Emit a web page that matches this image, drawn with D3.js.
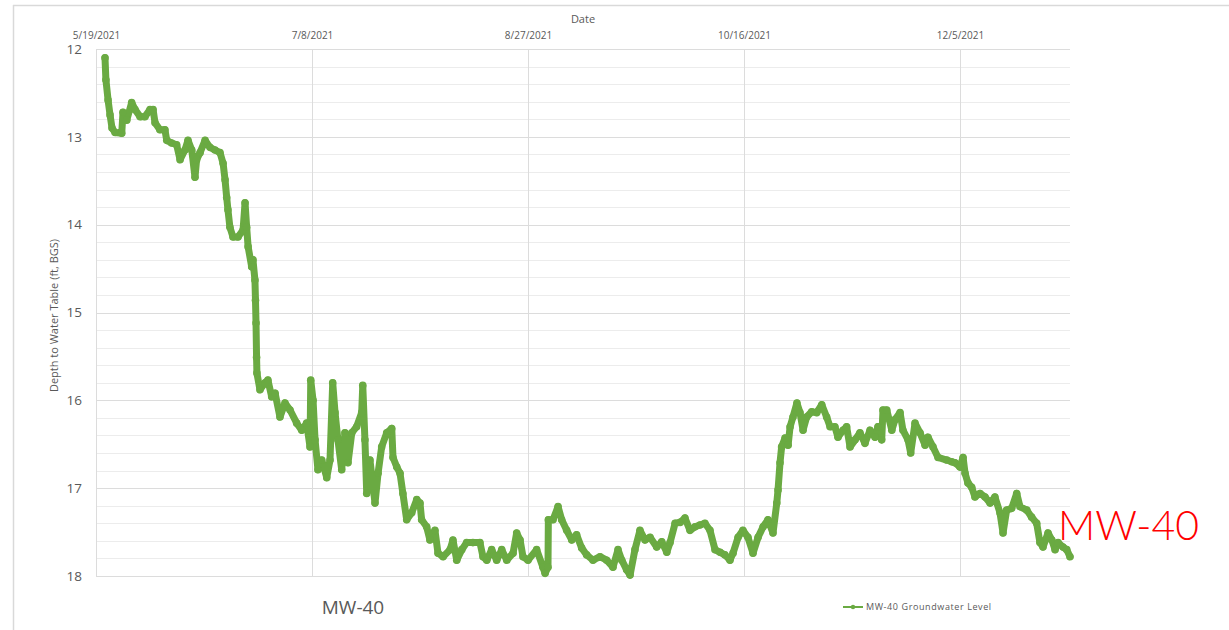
<!DOCTYPE html>
<html><head><meta charset="utf-8">
<script src="https://cdn.jsdelivr.net/npm/d3@7"></script>
<style>html,body{margin:0;padding:0;background:#fff;}svg{display:block;}</style>
</head><body>
<script>
const dates = ["5/21/2021 02:00","5/21/2021 07:00","5/21/2021 19:00","5/22/2021 06:00","5/22/2021 17:00","5/23/2021 10:00","5/24/2021 23:00","5/25/2021 06:00","5/26/2021 03:00","5/27/2021 06:00",
"5/28/2021 01:00","5/29/2021 05:00","5/30/2021 08:00","5/31/2021 12:00","6/1/2021 05:00","6/1/2021 16:00","6/2/2021 19:00","6/3/2021 23:00","6/4/2021 09:00","6/5/2021 12:00",
"6/6/2021 16:00","6/7/2021 11:00","6/8/2021 14:00","6/9/2021 07:00","6/10/2021 04:00","6/10/2021 22:00","6/11/2021 07:00","6/12/2021 02:00","6/13/2021 06:00","6/14/2021 09:00",
"6/15/2021 13:00","6/16/2021 17:00","6/17/2021 10:00","6/17/2021 21:00","6/18/2021 06:00","6/18/2021 13:00","6/19/2021 00:00","6/19/2021 17:00","6/20/2021 21:00","6/22/2021 01:00",
"6/22/2021 12:00","6/22/2021 21:00","6/23/2021 05:00","6/24/2021 01:00","6/24/2021 08:00","6/24/2021 19:00","6/24/2021 22:00","6/25/2021 01:00","6/25/2021 04:00","6/25/2021 06:00",
"6/25/2021 23:00","6/27/2021 03:00","6/27/2021 19:00","6/28/2021 16:00","6/29/2021 11:00","6/30/2021 14:00","7/1/2021 18:00","7/2/2021 22:00","7/4/2021 11:00","7/5/2021 15:00",
"7/6/2021 18:00","7/7/2021 13:00","7/7/2021 17:00","7/8/2021 06:00","7/8/2021 17:00","7/9/2021 09:00","7/10/2021 06:00","7/11/2021 10:00","7/12/2021 04:00","7/12/2021 19:00",
"7/13/2021 08:00","7/14/2021 00:00","7/14/2021 21:00","7/15/2021 15:00","7/16/2021 08:00","7/17/2021 05:00","7/18/2021 08:00","7/19/2021 12:00","7/19/2021 18:00","7/20/2021 06:00",
"7/20/2021 16:00","7/21/2021 10:00","7/22/2021 14:00","7/23/2021 07:00","7/24/2021 03:00","7/25/2021 07:00","7/26/2021 11:00","7/26/2021 18:00","7/27/2021 15:00","7/28/2021 09:00",
"7/29/2021 01:00","7/29/2021 22:00","7/31/2021 02:00","8/1/2021 06:00","8/2/2021 00:00","8/2/2021 09:00","8/3/2021 13:00","8/4/2021 07:00","8/5/2021 11:00","8/6/2021 04:00",
"8/7/2021 08:00","8/8/2021 23:00","8/9/2021 15:00","8/10/2021 12:00","8/11/2021 16:00","8/12/2021 19:00","8/14/2021 06:00","8/15/2021 21:00","8/16/2021 14:00","8/17/2021 11:00",
"8/18/2021 14:00","8/19/2021 18:00","8/20/2021 22:00","8/22/2021 02:00","8/23/2021 13:00","8/24/2021 09:00","8/25/2021 04:00","8/25/2021 20:00","8/27/2021 00:00","8/29/2021 00:00",
"8/30/2021 11:00","8/30/2021 23:00","8/31/2021 15:00","8/31/2021 17:00","9/1/2021 19:00","9/2/2021 23:00","9/3/2021 19:00","9/4/2021 23:00","9/6/2021 03:00","9/7/2021 06:00",
"9/8/2021 10:00","9/9/2021 14:00","9/11/2021 01:00","9/12/2021 16:00","9/14/2021 05:00","9/15/2021 16:00","9/16/2021 20:00","9/17/2021 17:00","9/18/2021 20:00","9/19/2021 15:00",
"9/20/2021 18:00","9/21/2021 22:00","9/23/2021 02:00","9/24/2021 06:00","9/25/2021 19:00","9/26/2021 23:00","9/28/2021 03:00","9/28/2021 21:00","9/30/2021 01:00","10/1/2021 05:00",
"10/2/2021 08:00","10/3/2021 12:00","10/4/2021 16:00","10/5/2021 19:00","10/6/2021 23:00","10/8/2021 03:00","10/9/2021 07:00","10/10/2021 11:00","10/11/2021 14:00","10/12/2021 18:00",
"10/13/2021 11:00","10/14/2021 15:00","10/15/2021 18:00","10/16/2021 22:00","10/18/2021 02:00","10/19/2021 06:00","10/20/2021 10:00","10/21/2021 13:00","10/22/2021 17:00","10/23/2021 14:00",
"10/23/2021 21:00","10/24/2021 08:00","10/24/2021 17:00","10/25/2021 12:00","10/26/2021 05:00","10/26/2021 16:00","10/27/2021 08:00","10/28/2021 06:00","10/28/2021 23:00","10/29/2021 16:00",
"10/30/2021 12:00","10/31/2021 16:00","11/1/2021 20:00","11/3/2021 00:00","11/4/2021 03:00","11/4/2021 22:00","11/6/2021 01:00","11/6/2021 18:00","11/7/2021 22:00","11/8/2021 18:00",
"11/9/2021 13:00","11/10/2021 17:00","11/11/2021 20:00","11/13/2021 00:00","11/14/2021 04:00","11/15/2021 08:00","11/16/2021 00:00","11/16/2021 21:00","11/17/2021 04:00","11/18/2021 01:00",
"11/19/2021 05:00","11/19/2021 23:00","11/21/2021 03:00","11/21/2021 19:00","11/22/2021 23:00","11/23/2021 14:00","11/24/2021 14:00","11/25/2021 18:00","11/26/2021 22:00","11/27/2021 14:00",
"11/28/2021 18:00","11/29/2021 22:00","12/1/2021 22:00","12/3/2021 02:00","12/3/2021 20:00","12/5/2021 00:00","12/5/2021 17:00","12/6/2021 04:00","12/6/2021 20:00","12/7/2021 17:00",
"12/8/2021 11:00","12/9/2021 15:00","12/10/2021 19:00","12/11/2021 23:00","12/13/2021 02:00","12/14/2021 06:00","12/14/2021 23:00","12/15/2021 19:00","12/16/2021 23:00","12/18/2021 03:00",
"12/18/2021 21:00","12/20/2021 11:00","12/21/2021 14:00","12/22/2021 18:00","12/23/2021 12:00","12/24/2021 05:00","12/25/2021 09:00","12/26/2021 06:00","12/27/2021 00:00","12/27/2021 17:00",
"12/28/2021 20:00","12/29/2021 17:00","12/30/2021 11:00"];
const depths = [12.10,12.35,12.58,12.75,12.90,12.95,12.96,12.72,12.81,12.61,
12.69,12.77,12.77,12.69,12.69,12.84,12.92,12.92,13.04,13.07,
13.09,13.26,13.15,13.04,13.15,13.46,13.26,13.18,13.04,13.12,
13.15,13.18,13.30,13.49,13.69,13.83,14.03,14.14,14.14,14.06,
13.75,14.03,14.25,14.48,14.40,14.63,14.86,15.12,15.51,15.69,
15.88,15.80,15.77,15.96,15.92,16.19,16.03,16.11,16.26,16.34,
16.26,16.53,15.77,16.00,16.45,16.79,16.68,16.88,16.68,15.80,
16.14,16.45,16.79,16.37,16.71,16.37,16.30,16.14,15.83,16.45,
17.06,16.68,17.17,16.83,16.53,16.37,16.32,16.65,16.76,16.83,
17.06,17.36,17.28,17.13,17.17,17.36,17.44,17.59,17.48,17.74,
17.78,17.70,17.59,17.82,17.70,17.62,17.62,17.62,17.78,17.82,
17.70,17.82,17.70,17.82,17.74,17.51,17.59,17.78,17.82,17.70,
17.90,17.97,17.90,17.36,17.36,17.21,17.36,17.48,17.59,17.53,
17.68,17.76,17.82,17.78,17.82,17.90,17.70,17.82,17.93,17.99,
17.70,17.48,17.59,17.56,17.67,17.61,17.73,17.62,17.40,17.39,
17.34,17.48,17.44,17.42,17.40,17.48,17.70,17.73,17.76,17.82,
17.74,17.56,17.48,17.56,17.74,17.56,17.44,17.36,17.51,17.17,
17.02,16.71,16.53,16.43,16.51,16.30,16.19,16.03,16.14,16.34,
16.19,16.13,16.14,16.05,16.19,16.30,16.30,16.42,16.34,16.30,
16.53,16.45,16.37,16.49,16.34,16.42,16.30,16.45,16.11,16.11,
16.34,16.22,16.14,16.34,16.45,16.60,16.26,16.37,16.51,16.42,
16.53,16.65,16.68,16.70,16.71,16.76,16.65,16.83,16.94,16.99,
17.10,17.06,17.10,17.17,17.10,17.28,17.51,17.25,17.23,17.06,
17.21,17.25,17.33,17.40,17.62,17.67,17.51,17.59,17.70,17.62,
17.67,17.70,17.78];
const xTickLabels = ["5/19/2021","7/8/2021","8/27/2021","10/16/2021","12/5/2021"];
const xDomain = ["5/19/2021","12/30/2021 11:00"];
const yTicks = [12,13,14,15,16,17,18];
const seriesName = "MW-40 Groundwater Level";
const wellName = "MW-40";

const W = 1229, H = 630;
const m = {left:96, top:49, right:1070, bottom:576};
const parseT = d3.timeParse("%m/%d/%Y %H:%M");
const parseD = d3.timeParse("%m/%d/%Y");
const pd = s => parseT(s) || parseD(s);
const data = dates.map((d,i)=>({t:pd(d), v:depths[i]}));

const svg = d3.select("body").append("svg").attr("width",W).attr("height",H);
svg.append("rect").attr("width",W).attr("height",H).attr("fill","#fff");
// outer frame
svg.append("line").attr("x1",13).attr("x2",W).attr("y1",5.5).attr("y2",5.5).attr("stroke","#d9d9d9").attr("stroke-width",1.5);
svg.append("line").attr("x1",13.5).attr("x2",13.5).attr("y1",5).attr("y2",H).attr("stroke","#d9d9d9").attr("stroke-width",1.5);

const x = d3.scaleTime().domain(xDomain.map(pd)).range([m.left, m.right]);
const y = d3.scaleLinear().domain([12,18]).range([m.top, m.bottom]);

// horizontal gridlines (minor every 0.2)
const minor = d3.range(0,31).map(i=>12+i*0.2);
svg.append("g").selectAll("line").data(minor).join("line")
  .attr("x1",m.left).attr("x2",m.right)
  .attr("y1",d=>Math.round(y(d))+0.5).attr("y2",d=>Math.round(y(d))+0.5)
  .attr("stroke",(d,i)=> i%5===0 ? "#dcdcdc" : "#ececec").attr("stroke-width",1);

// vertical gridlines at date ticks
const xt = xTickLabels.map(pd);
svg.append("g").selectAll("line").data(xt).join("line")
  .attr("x1",d=>Math.round(x(d))+0.5).attr("x2",d=>Math.round(x(d))+0.5)
  .attr("y1",m.top).attr("y2",m.bottom).attr("stroke","#dcdcdc");

// top axis
const xAxis = d3.axisTop(x).tickValues(xt).tickSize(0).tickPadding(0)
  .tickFormat(d=>`${d.getMonth()+1}/${d.getDate()}/${d.getFullYear()}`);
const gx = svg.append("g").attr("transform",`translate(0,${m.top-10})`).call(xAxis);
gx.select(".domain").remove();
gx.selectAll("text").attr("font-family","Open Sans, sans-serif").attr("font-size",10).attr("fill","#595959");

// left axis
const yAxis = d3.axisLeft(y).tickValues(yTicks).tickSize(0).tickPadding(14).tickFormat(d3.format("d"));
const gy = svg.append("g").attr("transform",`translate(${m.left},0)`).call(yAxis);
gy.select(".domain").remove();
gy.selectAll("text").attr("font-family","Open Sans, sans-serif").attr("font-size",13.5).attr("fill","#595959");

svg.append("text").attr("x",583).attr("y",23).attr("text-anchor","middle")
  .attr("font-family","Open Sans, sans-serif").attr("font-size",11).attr("fill","#595959").text("Date");
svg.append("text").attr("transform",`translate(58,${(m.top+m.bottom)/2+3}) rotate(-90)`).attr("text-anchor","middle")
  .attr("font-family","Open Sans, sans-serif").attr("font-size",11).attr("fill","#595959").text("Depth to Water Table (ft, BGS)");

// series
const green = "#6aaa42";
const line = d3.line().x(d=>x(d.t)).y(d=>y(d.v));
svg.append("path").datum(data).attr("d",line).attr("fill","none").attr("stroke",green)
  .attr("stroke-width",7).attr("stroke-linejoin","round").attr("stroke-linecap","round");
svg.append("g").selectAll("circle").data(data).join("circle")
  .attr("cx",d=>x(d.t)).attr("cy",d=>y(d.v)).attr("r",3.8).attr("fill",green);

// bottom labels
svg.append("text").attr("x",353).attr("y",614).attr("text-anchor","middle")
  .attr("font-family","Open Sans, sans-serif").attr("font-size",19).attr("fill","#595959").text(wellName);
const lg = svg.append("g");
lg.append("line").attr("x1",843).attr("x2",863).attr("y1",607).attr("y2",607).attr("stroke",green).attr("stroke-width",2);
lg.append("circle").attr("cx",853).attr("cy",607).attr("r",2.2).attr("fill",green);
lg.append("text").attr("x",866).attr("y",610).attr("font-family","Open Sans, sans-serif").attr("font-size",9)
  .attr("letter-spacing",0.6).attr("fill","#595959").text(seriesName);

// red annotation
svg.append("text").attr("x",1058).attr("y",540).attr("font-family","Lato, sans-serif").attr("font-weight",300)
  .attr("font-size",41).attr("fill","#ff0000").text(wellName);
</script>
</body></html>
